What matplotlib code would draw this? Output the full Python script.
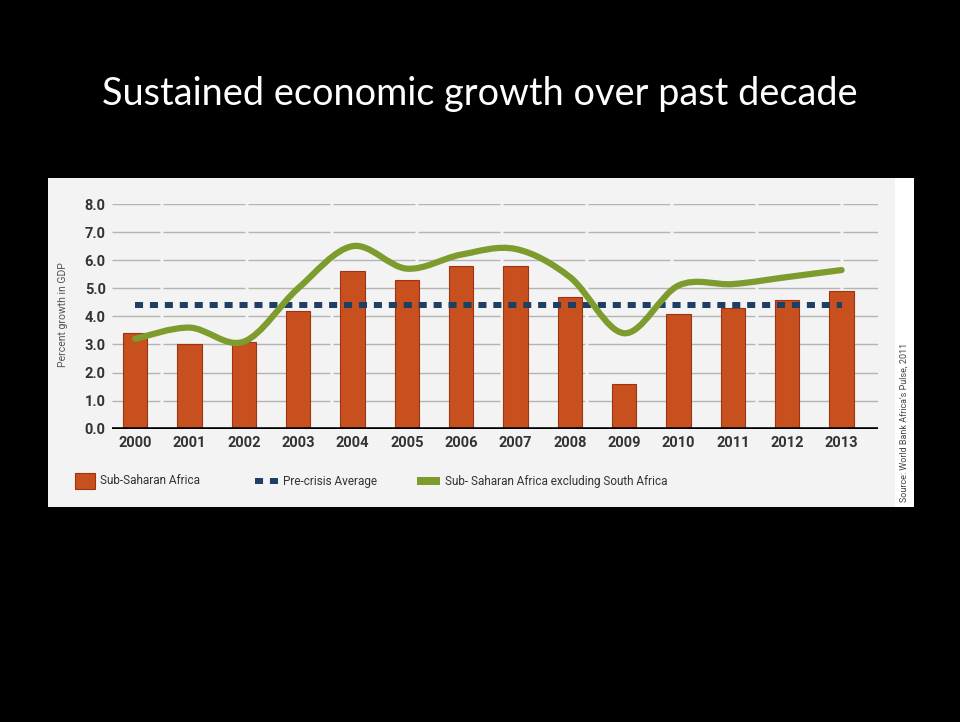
import matplotlib
matplotlib.use("Agg")
import matplotlib.pyplot as plt
import numpy as np
from matplotlib.patches import Rectangle, PathPatch
from matplotlib.path import Path
from matplotlib.lines import Line2D

# GDP growth, percent
years = ["2000", "2001", "2002", "2003", "2004", "2005", "2006",
         "2007", "2008", "2009", "2010", "2011", "2012", "2013"]
ssa = [3.4, 3.0, 3.1, 4.2, 5.6, 5.3, 5.8, 5.8, 4.7, 1.6, 4.1, 4.3, 4.6, 4.9]
ssa_ex_sa = [3.2, 3.6, 3.1, 5.0, 6.5, 5.7, 6.2, 6.4, 5.4, 3.4, 5.1, 5.15, 5.4, 5.65]
pre_crisis_avg = 4.4
yticks = [0.0, 1.0, 2.0, 3.0, 4.0, 5.0, 6.0, 7.0, 8.0]

BAR = "#c8501e"
BAR_EDGE = "#9a3414"
NAVY = "#1d3f63"
GREEN = "#7d9c2d"
TXT = "#333333"
narrow = ["Roboto", "DejaVu Sans"]

fig = plt.figure(figsize=(9.6, 7.22), dpi=100, facecolor="black")

# slide title
fig.text(0.5, 1 - 105 / 722, "Sustained economic growth over past decade",
         color="white", fontsize=27.3, family=["Lato", "DejaVu Sans"],
         ha="center", va="baseline")

# chart panel
fig.patches.append(Rectangle((0.0503, 0.2982), 0.9018, 0.4557,
                             transform=fig.transFigure, facecolor="#f3f3f3",
                             edgecolor="none", zorder=-2))
fig.patches.append(Rectangle((0.9323, 0.2982), 0.0198, 0.4557,
                             transform=fig.transFigure, facecolor="white",
                             edgecolor="none", zorder=-2))

ax = fig.add_axes([0.1164, 0.4062, 0.7982, 0.3112])
ax.set_facecolor("none")
x = np.arange(len(years))

ax.bar(x, ssa, width=0.45, color=BAR, edgecolor=BAR_EDGE, linewidth=0.8, zorder=2)

ax.plot([x[0], x[-1]], [pre_crisis_avg, pre_crisis_avg], color=NAVY, lw=4.3,
        linestyle=(0, (1.35, 1.15)), solid_capstyle="butt",
        dash_capstyle="butt", zorder=3)

# smooth curve through the yearly points (Catmull-Rom as cubic Beziers)
pts = np.column_stack([x, ssa_ex_sa]).astype(float)
ext = np.vstack([pts[0], pts, pts[-1]])
verts = [tuple(pts[0])]
codes = [Path.MOVETO]
for i in range(1, len(ext) - 2):
    p0, p1, p2, p3 = ext[i - 1], ext[i], ext[i + 1], ext[i + 2]
    c1 = p1 + (p2 - p0) / 6
    c2 = p2 - (p3 - p1) / 6
    verts += [tuple(c1), tuple(c2), tuple(p2)]
    codes += [Path.CURVE4] * 3
ax.add_patch(PathPatch(Path(verts, codes), fill=False, edgecolor=GREEN,
                       lw=4.5, capstyle="round", zorder=4))

ax.axhline(0, color="black", lw=2.6, zorder=5)

ax.set_xlim(-0.43, 13.67)
ax.set_ylim(0, 8)
ax.set_yticks(yticks)
ax.set_yticklabels([f"{v:.1f}" for v in yticks])
ax.set_xticks(x)
ax.set_xticklabels(years)
ax.yaxis.grid(True, color="#b4b4b4", lw=1.0, linestyle=(24.5, (59, 2.2)))
ax.set_axisbelow(True)
for s in ax.spines.values():
    s.set_visible(False)
ax.tick_params(length=0, colors=TXT)
ax.tick_params(axis="y", pad=4.3)
ax.tick_params(axis="x", pad=5)
for lab in ax.get_xticklabels() + ax.get_yticklabels():
    lab.set_family(narrow)
    lab.set_fontweight("bold")
    lab.set_fontsize(10.5)
    lab.set_color(TXT)

fig.text(0.0653, 0.5641, "Percent growth in GDP", rotation=90, fontsize=7.5,
         family=narrow, color="#555555", ha="center", va="center")
fig.text(0.9417, 0.4148, "Source: World Bank Africa's Pulse, 2011", rotation=90,
         fontsize=6.5, family=narrow, color="#444444", ha="center", va="center")

# legend row
ly = 1 - 481 / 722
fig.patches.append(Rectangle((0.0781, 0.3227), 0.0208, 0.0222,
                             transform=fig.transFigure, facecolor=BAR,
                             edgecolor=BAR_EDGE, lw=0.8))
fig.text(0.1042, ly, "Sub-Saharan Africa", fontsize=8.5, family=narrow,
         color=TXT, va="center")
fig.add_artist(Line2D([255 / 960, 279 / 960], [ly, ly], transform=fig.transFigure,
                      color=NAVY, lw=4.3, linestyle=(0, (1.35, 1.15)),
                      dash_capstyle="butt"))
fig.text(0.2948, ly, "Pre-crisis Average", fontsize=8.5, family=narrow,
         color=TXT, va="center")
fig.patches.append(Rectangle((0.4344, 0.3283), 0.024, 0.0111,
                             transform=fig.transFigure, facecolor=GREEN,
                             edgecolor="none"))
fig.text(0.4635, ly, "Sub- Saharan Africa excluding South Africa", fontsize=8.5,
         family=narrow, color=TXT, va="center")

fig.savefig("out.png", dpi=100, facecolor="black")
